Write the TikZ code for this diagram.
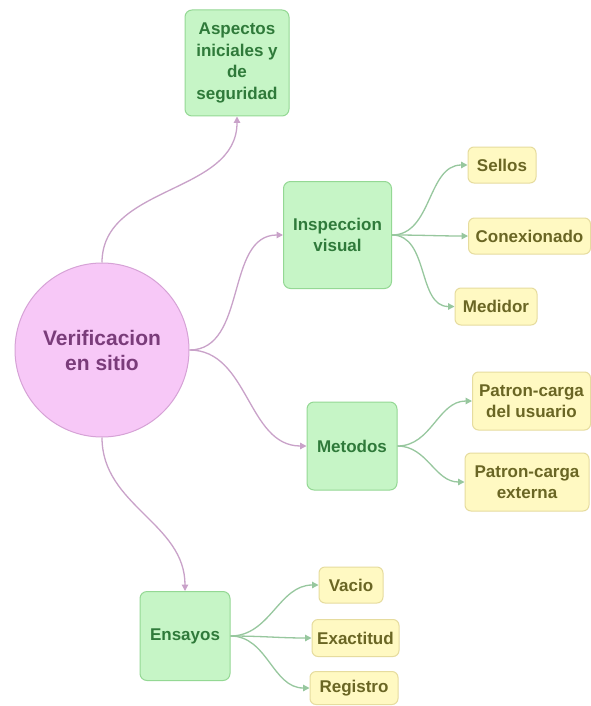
\documentclass[tikz,border=0pt]{standalone}
\usepackage{fontspec}
\setmainfont{Liberation Sans}
\usetikzlibrary{arrows.meta}
\definecolor{hubfill}{HTML}{F7C8F7}
\definecolor{hubline}{HTML}{D6A2D6}
\definecolor{hubtext}{HTML}{7A3C7A}
\definecolor{grnfill}{HTML}{C6F5C6}
\definecolor{grnline}{HTML}{94D894}
\definecolor{grntext}{HTML}{2F7A3A}
\definecolor{ylwfill}{HTML}{FFF9C2}
\definecolor{ylwline}{HTML}{E6DC9E}
\definecolor{ylwtext}{HTML}{6A6624}
\definecolor{purplink}{HTML}{C9A2C9}
\definecolor{grnlink}{HTML}{97C79E}
\tikzset{
  x=1pt, y=-1pt,
  hub/.style={circle, draw=hubline, fill=hubfill, line width=1pt,
    minimum size=174pt, inner sep=0pt, align=center, text=hubtext,
    font=\fontsize{21}{25}\selectfont\bfseries},
  topic/.style={rectangle, rounded corners=7pt, draw=grnline, fill=grnfill,
    line width=1pt, inner sep=0pt, align=center, text=grntext,
    font=\fontsize{17}{21.5}\selectfont\bfseries},
  leaf/.style={rectangle, rounded corners=6pt, draw=ylwline, fill=ylwfill,
    line width=1pt, inner sep=0pt, align=center, text=ylwtext,
    font=\fontsize{17}{21}\selectfont\bfseries},
  plink/.style={draw=purplink, line width=1.3pt,
    -{Triangle[width=6.5pt,length=6.5pt]}},
  glink/.style={draw=grnlink, line width=1.3pt,
    -{Triangle[width=6.5pt,length=6.5pt]}},
}
\begin{document}
\begin{tikzpicture}
\useasboundingbox[fill=white] (0,0) rectangle (591,706);

% central idea
\node[hub] (c) at (102,350) {Verificacion\\en sitio};

% first-level topics
\node[topic, minimum width=104pt, minimum height=106pt] (asp) at (237,63)
  {Aspectos\\iniciales y\\de\\seguridad};
\node[topic, minimum width=108pt, minimum height=107pt] (insp) at (337.5,235)
  {Inspeccion\\visual};
\node[topic, minimum width=90pt, minimum height=88pt] (met) at (352,446)
  {Metodos};
\node[topic, minimum width=90pt, minimum height=89pt] (ens) at (185,636)
  {Ensayos};

% leaves of Inspeccion visual
\node[leaf, minimum width=68pt, minimum height=36pt] (sel) at (502,165) {Sellos};
\node[leaf, minimum width=122pt, minimum height=36pt] (con) at (529.5,236) {Conexionado};
\node[leaf, minimum width=82pt, minimum height=37pt] (med) at (496,306.5) {Medidor};

% leaves of Metodos
\node[leaf, minimum width=118pt, minimum height=58pt] (pcu) at (531.5,401)
  {Patron-carga\\del usuario};
\node[leaf, minimum width=124pt, minimum height=58pt] (pce) at (527,482)
  {Patron-carga\\externa};

% leaves of Ensayos
\node[leaf, minimum width=64pt, minimum height=36pt] (vac) at (351,585) {Vacio};
\node[leaf, minimum width=87pt, minimum height=37pt] (exa) at (355.5,638) {Exactitud};
\node[leaf, minimum width=88pt, minimum height=33pt] (reg) at (354,688) {Registro};

% links from the central idea
\draw[plink] (c.north) to[out=90, in=-90] (asp.south);
\draw[plink] (c.east) to[out=0, in=180] (insp.west);
\draw[plink] (c.east) to[out=0, in=180] (met.west);
\draw[plink] (c.south) to[out=-90, in=90] (ens.north);

% links to the leaves
\draw[glink] (insp.east) to[out=0, in=180] (sel.west);
\draw[glink] (insp.east) to[out=0, in=180] (con.west);
\draw[glink] (insp.east) to[out=0, in=180] (med.west);
\draw[glink] (met.east) to[out=0, in=180] (pcu.west);
\draw[glink] (met.east) to[out=0, in=180] (pce.west);
\draw[glink] (ens.east) to[out=0, in=180] (vac.west);
\draw[glink] (ens.east) to[out=0, in=180] (exa.west);
\draw[glink] (ens.east) to[out=0, in=180] (reg.west);
\end{tikzpicture}
\end{document}
